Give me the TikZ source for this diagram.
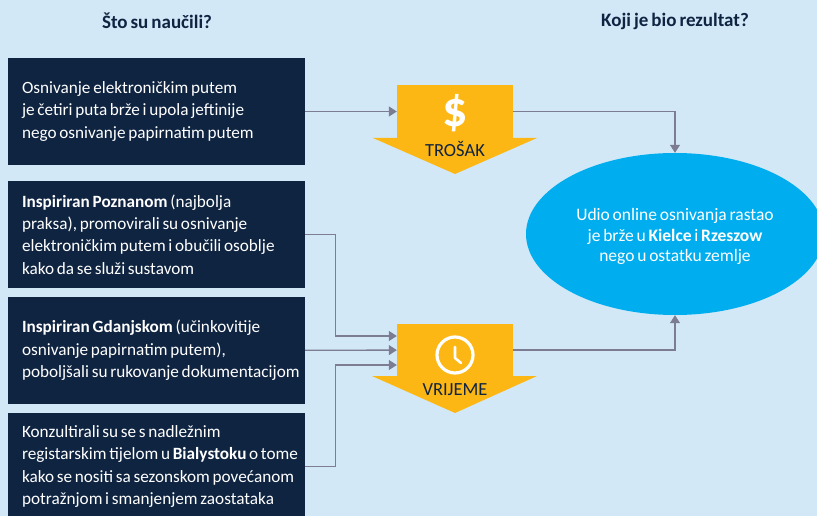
\documentclass[tikz,border=0pt]{standalone}
\usepackage{fontspec}
\setmainfont[WordSpace=0.7]{Carlito}
\usetikzlibrary{arrows.meta,shapes.geometric}

\definecolor{bgblue}{HTML}{D2E8F7}
\definecolor{boxnavy}{HTML}{0F2441}
\definecolor{arrowyellow}{HTML}{FDB714}
\definecolor{resultblue}{HTML}{00AEEF}
\definecolor{linegray}{HTML}{7C7C92}

\tikzset{
    lesson/.style={fill=boxnavy, text=white, minimum width=297pt, minimum height=107pt, inner sep=0pt,
        align=flush left, text width=269pt, font=\fontsize{17.2}{22.4}\selectfont},
    heading/.style={font=\fontsize{19}{20}\selectfont\bfseries, text=boxnavy},
    body/.style={fill=arrowyellow, minimum width=116pt, minimum height=53pt, inner sep=0pt},
    tag/.style={font=\fontsize{18.5}{20}\selectfont, text=boxnavy, inner sep=0pt},
    link/.style={draw=linegray, line width=1.3pt},
    linkarrow/.style={link, -{Triangle[length=8pt,width=10pt]}}
}

\begin{document}
\begin{tikzpicture}[x=1pt,y=-1pt]
    % pozadina
    \fill[bgblue] (0,0) rectangle (817,516);
    \useasboundingbox (0,0) rectangle (817,516);

    % naslovi
    \node[heading] (left) at (157,21) {Što su naučili?};
    \node[heading] (right) at (675,21) {Koji je bio rezultat?};

    % lijevi okviri
    \node[lesson] (online) at (156.5,111.5)
    {Osnivanje elektroničkim putem\\je četiri puta brže i upola jeftinije\\nego osnivanje papirnatim putem};
    \node[lesson] (poznan) at (156.5,234.5)
    {\textbf{Inspiriran Poznanom} (najbolja\\praksa), promovirali su osnivanje\\elektroničkim putem i obučili osoblje\\kako da se služi sustavom};
    \node[lesson] (gdansk) at (156.5,350.5)
    {\textbf{Inspiriran Gdanjskom} (učinkovitije\\osnivanje papirnatim putem),\\\mbox{poboljšali su rukovanje dokumentacijom}};
    \node[lesson] (bialystok) at (156.5,466.5)
    {Konzultirali su se s nadležnim\\\mbox{registarskim tijelom u \textbf{Bialystoku} o tome}\\\mbox{kako se nositi sa sezonskom povećanom}\\potražnjom i smanjenjem zaostataka};

    % žute strelice
    \node[body] (cost) at (455,111.5) {};
    \fill[arrowyellow] (373,138) -- (537,138) -- (455,174) -- cycle;
    \node[body] (time) at (455,350) {};
    \fill[arrowyellow] (372,376) -- (537,376) -- (455,413) -- cycle;

    % rezultat
    \node[ellipse, fill=resultblue, minimum width=298pt, minimum height=162pt, inner sep=0pt] (result) at (675,234) {};
    \node[text=white, inner sep=0pt, align=center, font=\fontsize{17.5}{20.4}\selectfont] (resulttext)
    at ([yshift=-2.5pt]result.center)
    {Udio online osnivanja rastao\\je brže u \textbf{Kielce} i \textbf{Rzeszow}\\nego u ostatku zemlje};

    % oznake i ikone
    \node[tag] (costtag) at (455,149) {TROŠAK};
    \node[tag] (timetag) at (455,389.5) {VRIJEME};
    \node[font=\fontsize{50}{50}\selectfont\bfseries, text=white, inner sep=0pt] (dollar) at (455,113) {\$};
    \node[circle, draw=white, line width=3.2pt, minimum size=36pt, inner sep=0pt] (clock) at (455,355) {};
    \draw[white, line width=2.6pt, line cap=round, line join=round]
    (455,347) -- (455,358) -- (461,363);

    % veze
    \draw[linkarrow] (online) -- (cost);
    \draw[linkarrow] (poznan.east) -- ++(30,0) |- ([yshift=14pt]time.west);
    \draw[linkarrow] (gdansk) -- (time);
    \draw[linkarrow] (bialystok.east) -- ++(30,0) |- ([yshift=-15pt]time.west);
    \draw[linkarrow] (cost.east) -| (result.north);
    \draw[linkarrow] (time.east) -| (result.south);
\end{tikzpicture}
\end{document}
